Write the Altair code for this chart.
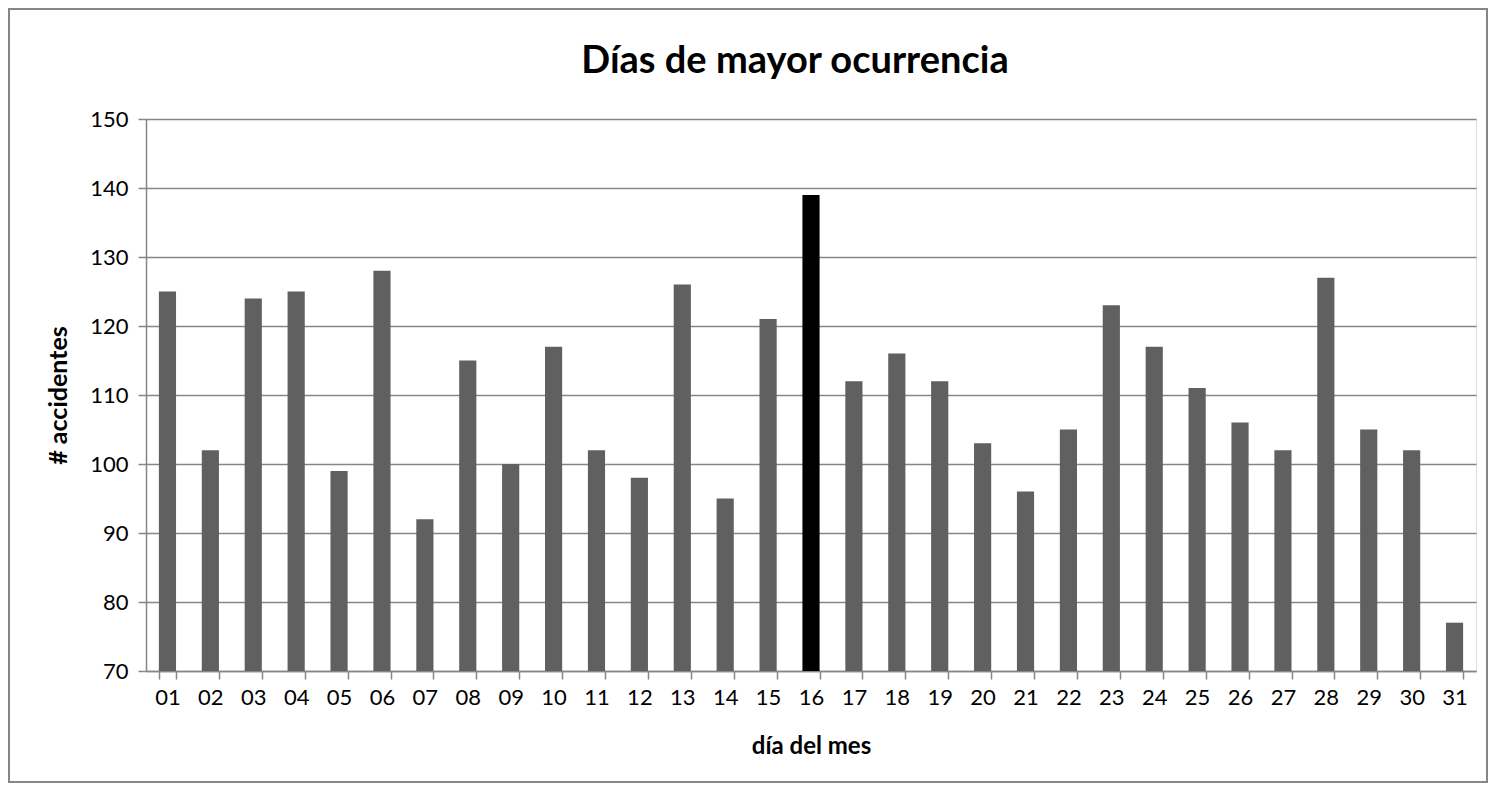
import altair as alt
import pandas as pd

dias = ["01","02","03","04","05","06","07","08","09","10","11","12","13","14","15","16",
        "17","18","19","20","21","22","23","24","25","26","27","28","29","30","31"]
accidentes = [125,102,124,125,99,128,92,115,100,117,102,98,126,95,121,139,
              112,116,112,103,96,105,123,117,111,106,102,127,105,102,77]
destacado = ["16"]
y_ticks = [70, 80, 90, 100, 110, 120, 130, 140, 150]
titulo = "Días de mayor ocurrencia"

df = pd.DataFrame({"dia": dias, "n": accidentes})
df["base"] = 70
df["color"] = ["#000000" if d in destacado else "#606060" for d in dias]

W, H = 1330, 552
GRAY = "#868686"
FONT = "Lato"

bars = alt.Chart(df).mark_bar(clip=True).encode(
    x=alt.X("dia:N", sort=dias,
            scale=alt.Scale(paddingInner=0.6, paddingOuter=0.3),
            axis=alt.Axis(title="día del mes", labelAngle=0, tickBand="extent",
                          domainColor=GRAY, tickColor=GRAY, tickSize=8, tickWidth=1.5,
                          domainWidth=1.5, labelFontSize=22, labelFont=FONT,
                          labelColor="black", labelPadding=8, grid=False,
                          titleFont=FONT, titleFontSize=24, titleFontWeight="bold",
                          titleColor="black", titleY=75, titleBaseline="middle")),
    y=alt.Y("n:Q", scale=alt.Scale(domain=[70, 150], nice=False, zero=False),
            axis=alt.Axis(title="# accidentes", values=y_ticks, grid=True,
                          gridColor=GRAY, gridWidth=1.5, domainColor=GRAY,
                          domainWidth=1.5, tickColor=GRAY, tickSize=8, tickWidth=1.5,
                          labelFontSize=22, labelFont=FONT, labelColor="black",
                          labelPadding=10, titleFont=FONT, titleFontSize=25,
                          titleFontWeight="bold", titleColor="black",
                          titleX=-88, titleY=H / 2, titleAngle=-90,
                          titleAlign="center", titleBaseline="middle")),
    y2="base:Q",
    color=alt.Color("color:N", scale=None, legend=None),
)

border = alt.Chart(pd.DataFrame({"k": [0]})).mark_rect(
    fill=None, stroke=GRAY, strokeWidth=2, clip=False
).encode(
    x=alt.value(-137), x2=alt.value(1341), y=alt.value(-110), y2=alt.value(663)
)

title = alt.Chart(pd.DataFrame({"t": [titulo]})).mark_text(
    font=FONT, fontSize=38, fontWeight="bold", color="black", align="center",
    baseline="middle", clip=False
).encode(text="t:N", x=alt.value(649), y=alt.value(-57))

chart = alt.layer(border, bars, title).properties(
    width=W, height=H,
    autosize=alt.AutoSizeParams(type="none"),
    padding={"left": 138, "top": 111, "right": 12, "bottom": 112},
).configure_view(stroke=None).configure(background="white")

chart.save("out.html", embed_options={"renderer": "svg", "actions": False})
